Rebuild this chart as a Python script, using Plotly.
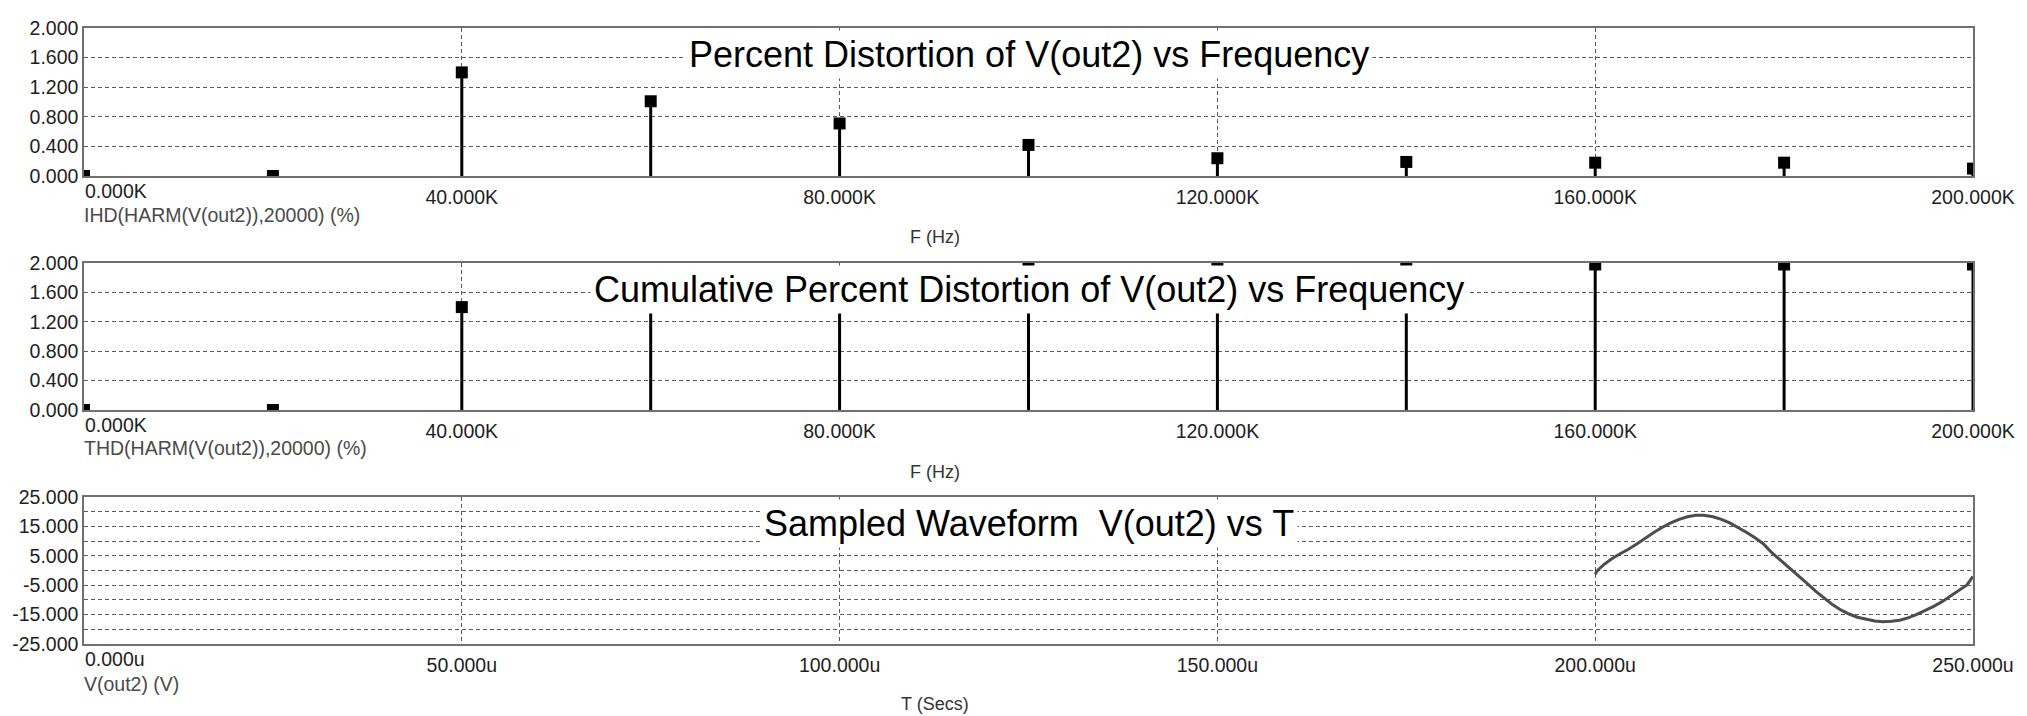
import plotly.graph_objects as go

# Harmonic frequencies (kHz) and distortion readings
freq_khz = [0, 20, 40, 60, 80, 100, 120, 140, 160, 180, 200]
ihd_pct = [0.0, 0.0, 1.40, 1.01, 0.71, 0.42, 0.24, 0.19, 0.18, 0.18, 0.10]
thd_pct = [0.0, 0.0, 1.40, 1.73, 1.87, 1.98, 1.98, 1.98, 1.98, 1.98, 1.98]

# Sampled output waveform, time in microseconds, volts
t_us = [200.0, 200.3, 201.1, 202.2, 203.3, 204.4, 205.6, 206.7, 207.8, 208.9,
        210.0, 211.1, 212.2, 213.3, 214.4, 215.6, 216.7, 217.8, 218.9, 220.0,
        221.1, 222.2, 223.4, 224.4, 225.6, 227.0, 228.0, 229.2, 230.3, 231.4,
        232.5, 233.6, 234.7, 235.9, 237.0, 238.1, 239.2, 240.3, 241.4, 242.5,
        243.6, 244.8, 245.9, 247.0, 248.1, 249.2, 250.0]
v_out2 = [-1.3, 0.0, 1.9, 4.0, 5.7, 7.2, 9.2, 11.2, 13.0, 14.7,
          16.2, 17.4, 18.3, 18.8, 18.8, 18.3, 17.4, 16.2, 14.7, 13.0,
          11.2, 9.2, 6.0, 3.8, 1.0, -2.0, -4.3, -7.1, -9.5, -11.6,
          -13.4, -14.8, -15.9, -16.7, -17.2, -17.4, -17.3, -16.9, -16.1, -15.0,
          -13.7, -12.2, -10.6, -8.8, -6.9, -4.9, -2.0]

freq_ticks = [40, 80, 120, 160, 200]
time_ticks = [50, 100, 150, 200, 250]
pct_ticks = [0.0, 0.4, 0.8, 1.2, 1.6, 2.0]
volt_ticks = [-25, -15, -5, 5, 15, 25]

titles = ["Percent Distortion of V(out2) vs Frequency",
          "Cumulative Percent Distortion of V(out2) vs Frequency",
          "Sampled Waveform  V(out2) vs T"]
trace_labels = ["IHD(HARM(V(out2)),20000) (%)",
                "THD(HARM(V(out2)),20000) (%)",
                "V(out2) (V)"]
x_titles = ["F (Hz)", "F (Hz)", "T (Secs)"]
first_ticks = ["0.000K", "0.000K", "0.000u"]

W, H = 2027, 716
FONT = "Liberation Sans, Arial, sans-serif"
GRID = "#5a5a5a"
FRAME = "#707070"
TICK_FONT = dict(family=FONT, size=19.5, color="#1e1e1e")

PLOT_LEFT, PLOT_RIGHT = 84, 1973
x_dom = [PLOT_LEFT / W, PLOT_RIGHT / W]
panels_px = [(28, 176), (263, 410), (497, 644)]
y_doms = [[1 - b / H, 1 - t / H] for t, b in panels_px]

fig = go.Figure()

stem_style = dict(type="data", symmetric=False, color="black",
                  thickness=3, width=0)
fig.add_trace(go.Scatter(
    x=freq_khz, y=ihd_pct, mode="markers", xaxis="x", yaxis="y",
    marker=dict(symbol="square", size=12, color="black"),
    error_y=dict(array=[0] * len(ihd_pct), arrayminus=ihd_pct, **stem_style),
    showlegend=False))
fig.add_trace(go.Scatter(
    x=freq_khz, y=thd_pct, mode="markers", xaxis="x2", yaxis="y2",
    marker=dict(symbol="square", size=12, color="black"),
    error_y=dict(array=[0] * len(thd_pct), arrayminus=thd_pct, **stem_style),
    showlegend=False))
fig.add_trace(go.Scatter(
    x=t_us, y=v_out2, mode="lines", xaxis="x3", yaxis="y3",
    line=dict(color="#4d4d4d", width=3), showlegend=False))


def x_axis(anchor, rng, ticks, suffix):
    return dict(domain=x_dom, anchor=anchor, range=rng, tickvals=ticks,
                ticktext=[f"{v:.3f}{suffix}" for v in ticks],
                showgrid=True, automargin=False,
                gridcolor=GRID, gridwidth=1, griddash="4px,3px",
                showline=True, mirror=True, linecolor=FRAME, linewidth=1.5,
                zeroline=False, ticks="", ticklabelstandoff=3,
                tickfont=TICK_FONT)


def y_axis(anchor, dom, rng, ticks, minor_step=None):
    ax = dict(domain=dom, anchor=anchor, range=rng, tickvals=ticks,
              ticktext=[f"{v:.3f}" for v in ticks], automargin=False,
              showgrid=True, gridcolor=GRID, gridwidth=1,
              griddash="4px,3px", showline=True, mirror=True,
              linecolor=FRAME, linewidth=1.5, zeroline=False, ticks="",
              tickfont=TICK_FONT)
    if minor_step:
        ax["minor"] = dict(dtick=minor_step, tick0=0, showgrid=True,
                           gridcolor=GRID, gridwidth=1, griddash="4px,3px")
    return ax


annotations = []
x_ids = ["x", "x2", "x3"]
y_ids = ["y", "y2", "y3"]
sub_label_y = [215, 448, 684]
x_title_y = [237, 472, 704]
for i in range(3):
    xa, ya = x_ids[i], y_ids[i]
    bottom_px = panels_px[i][1]
    annotations.append(dict(
        text=titles[i], xref=f"{xa} domain", yref=f"{ya} domain",
        x=0.5, y=0.823, xanchor="center", yanchor="middle", showarrow=False,
        bgcolor="white", borderpad=3,
        font=dict(family=FONT, size=36, color="black")))
    # left-aligned label for the first x tick
    annotations.append(dict(
        text=first_ticks[i], xref="paper", yref="paper",
        x=(PLOT_LEFT - 1) / W, y=1 - (bottom_px + 15) / H,
        xanchor="left", yanchor="middle", showarrow=False,
        font=TICK_FONT))
    annotations.append(dict(
        text=trace_labels[i], xref="paper", yref="paper", x=82 / W,
        y=1 - sub_label_y[i] / H, xanchor="left", yanchor="middle",
        showarrow=False, font=dict(family=FONT, size=19.5, color="#4a4a4a")))
    annotations.append(dict(
        text=x_titles[i], xref="paper", yref="paper", x=935 / W,
        y=1 - x_title_y[i] / H, xanchor="center", yanchor="middle",
        showarrow=False, font=dict(family=FONT, size=18, color="#333333")))

fig.update_layout(
    width=W, height=H, autosize=False,
    margin=dict(l=0, r=0, t=0, b=0, autoexpand=False),
    paper_bgcolor="white", plot_bgcolor="white",
    xaxis=x_axis("y", [0, 200], freq_ticks, "K"),
    xaxis2=x_axis("y2", [0, 200], freq_ticks, "K"),
    xaxis3=x_axis("y3", [0, 250], time_ticks, "u"),
    yaxis=y_axis("x", y_doms[0], [0, 2], pct_ticks),
    yaxis2=y_axis("x2", y_doms[1], [0, 2], pct_ticks),
    yaxis3=y_axis("x3", y_doms[2], [-25, 25], volt_ticks, minor_step=5),
    annotations=annotations,
)

fig.write_html("out.html")
